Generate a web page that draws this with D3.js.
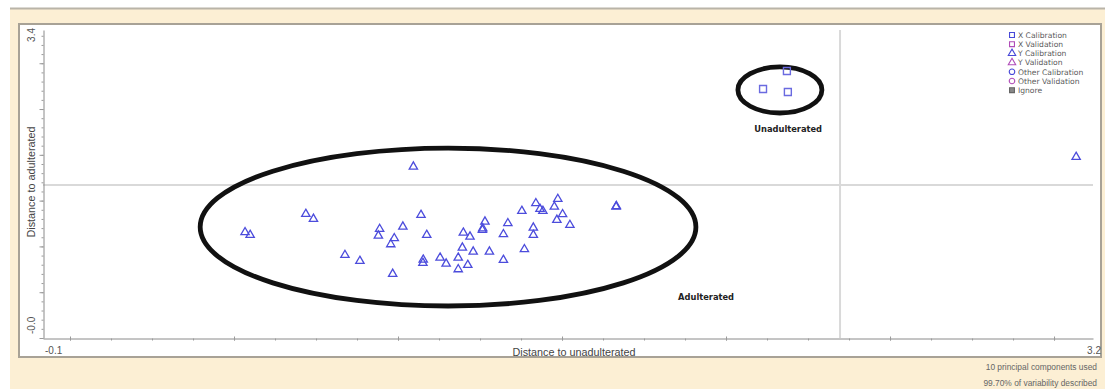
<!DOCTYPE html>
<html>
<head>
<meta charset="utf-8">
<script src="https://cdn.jsdelivr.net/npm/d3@7"></script>
<style>
  body { margin: 0; background: #ffffff; }
  svg { display: block; font-family: "Liberation Sans", Arial, sans-serif; }
</style>
</head>
<body>
<svg id="chart" width="1105" height="389"></svg>
<script>
// Y Calibration samples: distance to unadulterated (x) and distance to adulterated (y)
const yCalX = [1.064, 0.535, 0.551, 0.726, 0.750, 1.088, 1.031, 0.958, 0.954, 1.004,
               0.993, 1.106, 0.849, 0.896, 0.999, 1.095, 1.094, 1.148, 1.167, 1.205,
               1.205, 1.235, 1.218, 1.252, 1.303, 1.221, 1.242, 1.281, 1.282, 1.289,
               1.347, 1.361, 1.347, 1.413, 1.405, 1.441, 1.441, 1.449, 1.471, 1.462,
               1.518, 1.507, 1.533, 1.515, 1.556, 1.701, 1.702, 3.147];
const yCalY = [1.891, 1.167, 1.137, 1.369, 1.314, 1.358, 1.229, 1.203, 1.129, 1.101,
               1.034, 1.137, 0.916, 0.850, 0.707, 0.864, 0.828, 0.886, 0.820, 0.886,
               0.758, 0.806, 0.997, 0.953, 0.953, 1.162, 1.118, 1.192, 1.209, 1.284,
               1.145, 1.266, 0.861, 0.979, 1.402, 1.218, 1.137, 1.487, 1.402, 1.424,
               1.534, 1.449, 1.366, 1.303, 1.247, 1.449, 1.455, 1.998];

// X Calibration samples
const xCalX = [2.238, 2.163, 2.241];
const xCalY = [2.947, 2.749, 2.716];

// Axis ranges and their end labels
const xDomain = [-0.1, 3.2];
const yDomain = [0, 3.4];
const xEndLabels = ["-0.1", "3.2"];
const yEndLabels = ["-0.0", "3.4"];
const xTickStart = -0.0151, xMinorStep = 0.12886, xMajorEvery = 4;
const yMinorStep = 0.1011, yMajorEvery = 5;

// Critical limits
const limitX = 2.405;
const limitY = 1.689;

// Group outlines and their labels
const groupNames = ["Adulterated", "Unadulterated"];
const groupCx = [1.173, 2.216];
const groupCy = [1.225, 2.738];
const groupRx = [0.779, 0.132];
const groupRy = [0.872, 0.254];
const groupLabelX = [1.984, 2.242];
const groupLabelY = [0.453, 2.307];

const legendLabels = ["X Calibration", "X Validation", "Y Calibration", "Y Validation",
                      "Other Calibration", "Other Validation", "Ignore"];
const footnotes = ["10 principal components used", "99.70% of variability described"];

const svg = d3.select("#chart");

// window frame
svg.append("rect").attr("x", 10).attr("y", 8).attr("width", 1095).attr("height", 381)
  .attr("fill", "#fcefd4");
svg.append("line").attr("x1", 10).attr("x2", 1105).attr("y1", 8.5).attr("y2", 8.5)
  .attr("stroke", "#b9b4a8").attr("stroke-width", 2);
svg.append("rect").attr("x", 19).attr("y", 24).attr("width", 1082).attr("height", 333)
  .attr("fill", "#ffffff").attr("stroke", "#a8a296").attr("stroke-width", 2);

const x = d3.scaleLinear().domain(xDomain).range([43, 1093]);
const y = d3.scaleLinear().domain(yDomain).range([338, 30]);

// critical limit lines
svg.append("line").attr("x1", x(xDomain[0])).attr("x2", x(xDomain[1]))
  .attr("y1", y(limitY)).attr("y2", y(limitY))
  .attr("stroke", "#d9d9d9").attr("stroke-width", 2);
svg.append("line").attr("x1", x(limitX)).attr("x2", x(limitX))
  .attr("y1", y(yDomain[1])).attr("y2", y(yDomain[0]))
  .attr("stroke", "#d9d9d9").attr("stroke-width", 2);

// axes
const xTicks = d3.range(xTickStart, xDomain[1] + 1e-6, xMinorStep);
const xMajor = xTicks.filter((d, i) => i % xMajorEvery === 0);
const yTicks = d3.range(yDomain[0], yDomain[1] + 1e-6, yMinorStep);
const yMajor = yTicks.filter((d, i) => i % yMajorEvery === 0);

svg.append("g").attr("transform", `translate(0,${y(yDomain[0]) + 0.5})`)
  .call(d3.axisBottom(x).tickValues(xTicks).tickSize(2).tickSizeOuter(0).tickFormat(""));
svg.append("g").attr("transform", `translate(0,${y(yDomain[0]) - 1.5})`)
  .call(d3.axisBottom(x).tickValues(xMajor).tickSize(4).tickSizeOuter(0).tickFormat(""))
  .select(".domain").remove();
svg.append("g").attr("transform", `translate(${x(xDomain[0]) + 0.5},0)`)
  .call(d3.axisLeft(y).tickValues(yTicks).tickSize(2).tickSizeOuter(0).tickFormat(""));
svg.append("g").attr("transform", `translate(${x(xDomain[0]) + 0.5},0)`)
  .call(d3.axisLeft(y).tickValues(yMajor).tickSize(4).tickSizeOuter(0).tickFormat(""))
  .select(".domain").remove();
svg.selectAll(".domain").attr("stroke", "#8a8a8a").attr("stroke-width", 1);
svg.selectAll(".tick line").attr("stroke", "#9a9a9a").attr("stroke-width", 1);

// axis end labels
svg.append("text").attr("x", x(xDomain[0]) + 2).attr("y", 354)
  .attr("font-size", 10).attr("fill", "#555").text(xEndLabels[0]);
svg.append("text").attr("x", x(xDomain[1]) + 8).attr("y", 354).attr("text-anchor", "end")
  .attr("font-size", 10).attr("fill", "#555").text(xEndLabels[1]);
svg.append("text").attr("transform", `translate(35,${y(yDomain[0]) - 4}) rotate(-90)`)
  .attr("font-size", 10).attr("fill", "#555").text(yEndLabels[0]);
svg.append("text").attr("transform", `translate(35,${y(yDomain[1]) - 2}) rotate(-90)`)
  .attr("text-anchor", "end").attr("font-size", 10).attr("fill", "#555").text(yEndLabels[1]);

// axis titles
svg.append("text").attr("x", 574).attr("y", 356).attr("text-anchor", "middle")
  .attr("font-size", 10.8).attr("fill", "#444").text("Distance to unadulterated");
svg.append("text").attr("transform", "translate(35,182) rotate(-90)").attr("text-anchor", "middle")
  .attr("font-size", 10.8).attr("fill", "#444").text("Distance to adulterated");

// group outlines
svg.append("g").selectAll("ellipse").data(groupNames).join("ellipse")
  .attr("cx", (d, i) => x(groupCx[i]))
  .attr("cy", (d, i) => y(groupCy[i]))
  .attr("rx", (d, i) => x(groupCx[i] + groupRx[i]) - x(groupCx[i]))
  .attr("ry", (d, i) => y(groupCy[i]) - y(groupCy[i] + groupRy[i]))
  .attr("fill", "none").attr("stroke", "#111").attr("stroke-width", 4.8);
svg.append("g").selectAll("text").data(groupNames).join("text")
  .attr("x", (d, i) => x(groupLabelX[i])).attr("y", (d, i) => y(groupLabelY[i]) + 3)
  .attr("text-anchor", "middle").attr("font-family", "DejaVu Sans")
  .attr("font-size", 8.3).attr("font-weight", "bold")
  .attr("fill", "#222").text(d => d);

// samples
const tri = d3.symbol().type(d3.symbolTriangle).size(30);
const sq = d3.symbol().type(d3.symbolSquare).size(48);
svg.append("g").selectAll("path").data(yCalX).join("path")
  .attr("transform", (d, i) => `translate(${x(d)},${y(yCalY[i])})`)
  .attr("d", tri).attr("fill", "none").attr("stroke", "#4c4cdc").attr("stroke-width", 1.3);
svg.append("g").selectAll("path").data(xCalX).join("path")
  .attr("transform", (d, i) => `translate(${x(d)},${y(xCalY[i])})`)
  .attr("d", sq).attr("fill", "none").attr("stroke", "#6a6ae0").attr("stroke-width", 1.4);

// legend
const legendSymbols = [
  { type: d3.symbolSquare, color: "#4848d8", fill: "none" },
  { type: d3.symbolSquare, color: "#b04cb8", fill: "none" },
  { type: d3.symbolTriangle, color: "#4848d8", fill: "none" },
  { type: d3.symbolTriangle, color: "#b04cb8", fill: "none" },
  { type: d3.symbolCircle, color: "#4848d8", fill: "none" },
  { type: d3.symbolCircle, color: "#b04cb8", fill: "none" },
  { type: d3.symbolSquare, color: "#666", fill: "#888" }
];
const lg = svg.append("g").attr("transform", "translate(1012,35)");
const rows = lg.selectAll("g").data(legendLabels).join("g")
  .attr("transform", (d, i) => `translate(0,${i * 9.2})`);
rows.append("path")
  .attr("d", (d, i) => d3.symbol().type(legendSymbols[i].type).size(24)())
  .attr("fill", (d, i) => legendSymbols[i].fill)
  .attr("stroke", (d, i) => legendSymbols[i].color).attr("stroke-width", 1.1);
rows.append("text").attr("x", 6).attr("y", 2.7).attr("font-family", "DejaVu Sans")
  .attr("font-size", 7.6).attr("fill", "#5a5a5a").text(d => d);

// footnotes
svg.append("g").selectAll("text").data(footnotes).join("text")
  .attr("x", 1097).attr("y", (d, i) => 370 + i * 16).attr("text-anchor", "end")
  .attr("font-size", 8.4).attr("fill", "#666").text(d => d);
</script>
</body>
</html>
